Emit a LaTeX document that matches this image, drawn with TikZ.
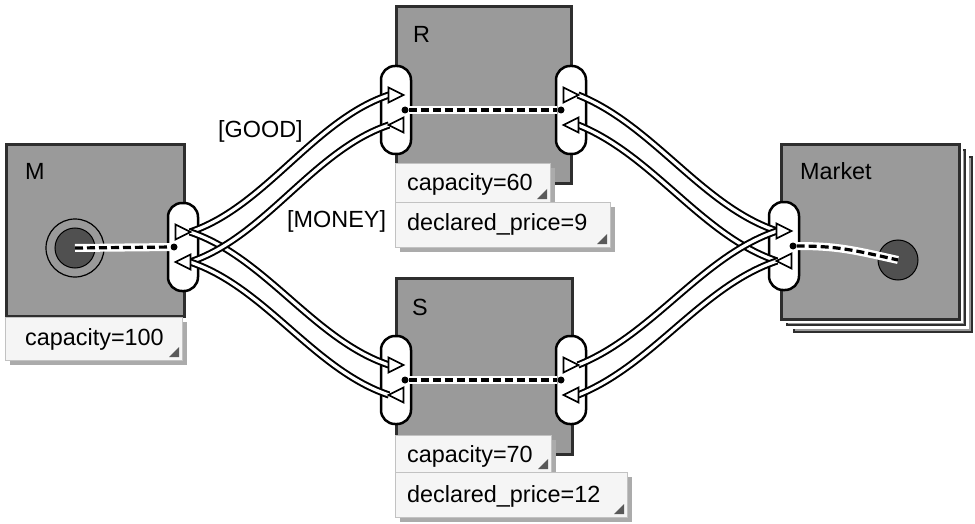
\documentclass[tikz,border=0pt]{standalone}
\usepackage{fontspec}
\setmainfont{Liberation Sans}
\usetikzlibrary{calc,shadows}

\definecolor{blockgray}{HTML}{9A9A9A}
\definecolor{blockedge}{HTML}{2E2E2E}
\definecolor{diskgray}{HTML}{505050}
\definecolor{notefill}{HTML}{F5F5F5}
\definecolor{noteedge}{HTML}{C2C2C2}
\definecolor{noteshadow}{HTML}{ABABAB}

\tikzset{
  tri right/.pic={\draw[fill=white,line width=1.6pt] (-7.5,-7.5) -- (7.5,0) -- (-7.5,7.5) -- cycle;},
  tri left/.pic={\draw[fill=white,line width=1.6pt] (7.5,-7.5) -- (-7.5,0) -- (7.5,7.5) -- cycle;}
}

\begin{document}
\begin{tikzpicture}[x=1pt,y=-1pt,
  every node/.style={font=\fontsize{23.4}{28}\selectfont},
  block/.style={draw=blockedge,fill=blockgray,line width=3.2pt,anchor=north west,inner sep=0pt},
  stack/.style={draw=blockedge,fill=blockgray,line width=2.5pt,preaction={draw=white,line width=7pt}},
  port/.style={draw=black,fill=white,line width=2.5pt,rounded corners=14pt,minimum width=30pt,minimum height=88pt,inner sep=0pt},
  wire/.style={line width=2pt,double=white,double distance=3.2pt},
  link/.style={line width=3.2pt,dash pattern=on 8pt off 4pt,preaction={draw=white,line width=8pt,solid}},
  dot/.style={circle,fill=black,inner sep=0pt,minimum size=7pt},
  disk/.style={circle,draw=black,fill=diskgray,line width=1pt,inner sep=0pt,minimum size=40pt},
  note/.style={draw=noteedge,fill=notefill,line width=1pt,anchor=north west,inner sep=0pt,
    drop shadow={shadow xshift=4.5pt,shadow yshift=-4.5pt,fill=noteshadow,opacity=1}},
  txt/.style={anchor=base west,inner sep=0pt},
  fold/.style={fill=black!65}]
\useasboundingbox (0,0) rectangle (975,524);

% blocks
\node[block,minimum width=178pt,minimum height=172pt] (M) at (5,143) {};
\node[block,minimum width=175pt,minimum height=177pt] (R) at (395,5) {};
\node[block,minimum width=176pt,minimum height=176pt] (S) at (395,277) {};
\draw[stack] (794,157) rectangle (972,332);
\draw[stack] (787,150) rectangle (965,325);
\node[block,minimum width=178pt,minimum height=175pt,preaction={draw=white,line width=7pt}] (K) at (780,143) {};

\node[txt] at (25,179) {M};
\node[txt] at (413,43) {R};
\node[txt] at (412,315) {S};
\node[txt] at (800,180) {Market};

% source and sink
\node[disk] (Mc) at (75,248) {};
\draw[line width=1.2pt] (Mc) circle (29pt);
\node[disk] (Kc) at (898,260) {};

% ports
\node[port] (Mp) at (183,247) {};
\node[port] (Rl) at (396,110) {};
\node[port] (Rr) at (571,110) {};
\node[port] (Sl) at (396,380) {};
\node[port] (Sr) at (571,380) {};
\node[port] (Kp) at (784,246) {};

% inner links
\node[dot] (Md) at ($(Mp)+(-9,0)$) {};
\node[dot] (Rld) at ($(Rl)+(9,0)$) {};
\node[dot] (Rrd) at ($(Rr)+(-10,0)$) {};
\node[dot] (Sld) at ($(Sl)+(9,0)$) {};
\node[dot] (Srd) at ($(Sr)+(-10,0)$) {};
\node[dot] (Kd) at ($(Kp)+(9,0)$) {};
\draw[link] (Mc.center) -- (Md);
\draw[link] (Rld) -- (Rrd);
\draw[link] (Sld) -- (Srd);
\draw[link] (Kd) .. controls +(45,0) and +(-45,-10) .. (Kc.center);

% wire ends
\coordinate (Mt) at ($(Mp)+(7,-15)$);
\coordinate (Mb) at ($(Mp)+(7,15)$);
\coordinate (Rlt) at ($(Rl)+(-7,-15)$);
\coordinate (Rlb) at ($(Rl)+(-7,15)$);
\coordinate (Rrt) at ($(Rr)+(7,-15)$);
\coordinate (Rrb) at ($(Rr)+(7,15)$);
\coordinate (Slt) at ($(Sl)+(-7,-15)$);
\coordinate (Slb) at ($(Sl)+(-7,15)$);
\coordinate (Srt) at ($(Sr)+(7,-15)$);
\coordinate (Srb) at ($(Sr)+(7,15)$);
\coordinate (Kt) at ($(Kp)+(-7,-15)$);
\coordinate (Kb) at ($(Kp)+(-7,15)$);

% wires
\draw[wire] (Mt) .. controls +(75,-25) and +(-75,25) .. (Rlt);
\draw[wire] (Mt) .. controls +(75,25) and +(-75,-25) .. (Slt);
\draw[wire] (Mb) .. controls +(75,-25) and +(-75,25) .. (Rlb);
\draw[wire] (Mb) .. controls +(75,25) and +(-75,-25) .. (Slb);
\draw[wire] (Rrt) .. controls +(75,30) and +(-75,-25) .. (Kt);
\draw[wire] (Rrb) .. controls +(75,30) and +(-75,-25) .. (Kb);
\draw[wire] (Srt) .. controls +(75,-30) and +(-75,25) .. (Kt);
\draw[wire] (Srb) .. controls +(75,-30) and +(-75,25) .. (Kb);

\pic at ($(Mp)+(0,-15)$) {tri right};
\pic at ($(Mp)+(0,15)$) {tri left};
\pic at ($(Rl)+(0,-15)$) {tri right};
\pic at ($(Rl)+(0,15)$) {tri left};
\pic at ($(Rr)+(0,-15)$) {tri right};
\pic at ($(Rr)+(0,15)$) {tri left};
\pic at ($(Sl)+(0,-15)$) {tri right};
\pic at ($(Sl)+(0,15)$) {tri left};
\pic at ($(Sr)+(0,-15)$) {tri right};
\pic at ($(Sr)+(0,15)$) {tri left};
\pic at ($(Kp)+(0,-15)$) {tri right};
\pic at ($(Kp)+(0,15)$) {tri left};

\node[txt] at (218,138) {[GOOD]};
\node[txt] at (287,227) {[MONEY]};

% parameters
\node[note,minimum width=177pt,minimum height=43pt] (Mcap) at (5,317) {};
\fill[fold] ($(Mcap.south east)+(-4,-4)$) -- ++(0,-10) -- ++(-10,10) -- cycle;
\node[txt] at (25,345) {capacity=100};

\node[note,minimum width=155pt,minimum height=39pt] (Rcap) at (395,163) {};
\fill[fold] ($(Rcap.south east)+(-4,-4)$) -- ++(0,-10) -- ++(-10,10) -- cycle;
\node[txt] at (407,190) {capacity=60};
\node[note,minimum width=215pt,minimum height=45pt] (Rpr) at (395,202) {};
\fill[fold] ($(Rpr.south east)+(-4,-4)$) -- ++(0,-10) -- ++(-10,10) -- cycle;
\node[txt] at (407,230) {declared\_price=9};

\node[note,minimum width=156pt,minimum height=37pt] (Scap) at (395,435) {};
\fill[fold] ($(Scap.south east)+(-4,-4)$) -- ++(0,-10) -- ++(-10,10) -- cycle;
\node[txt] at (407,462) {capacity=70};
\node[note,minimum width=232pt,minimum height=45pt] (Spr) at (395,472) {};
\fill[fold] ($(Spr.south east)+(-4,-4)$) -- ++(0,-10) -- ++(-10,10) -- cycle;
\node[txt] at (407,502) {declared\_price=12};
\end{tikzpicture}
\end{document}
